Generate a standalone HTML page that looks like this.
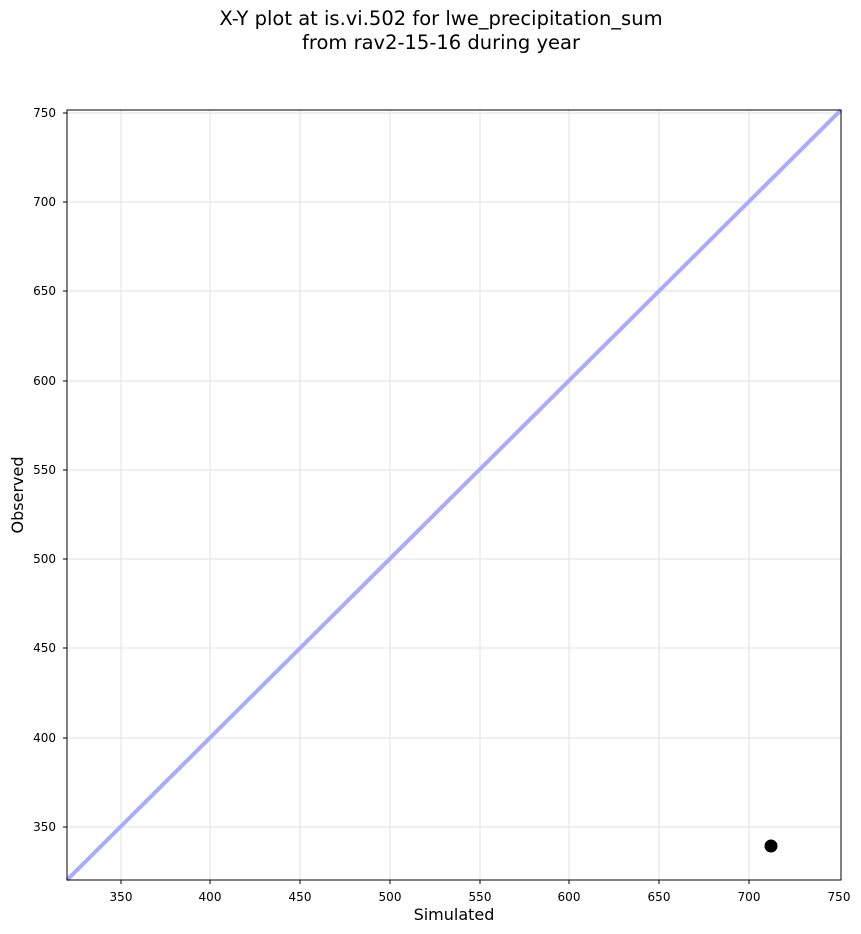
<!DOCTYPE html>
<html><head><style>body{margin:0;background:#fff}svg{display:block}</style></head><body>
<svg width="861" height="934" xmlns="http://www.w3.org/2000/svg" font-family="DejaVu Sans, Liberation Sans, sans-serif">
<rect width="861" height="934" fill="#fff"/>
<text x="441" y="25" font-size="19.5" text-anchor="middle">X-Y plot at is.vi.502 for lwe_precipitation_sum</text>
<text x="441" y="49" font-size="19.5" text-anchor="middle">from rav2-15-16 during year</text>
<g stroke="#e6e6e6" stroke-width="1.2">
<line x1="121" y1="110" x2="121" y2="880"/><line x1="210" y1="110" x2="210" y2="880"/><line x1="300" y1="110" x2="300" y2="880"/><line x1="390" y1="110" x2="390" y2="880"/><line x1="480" y1="110" x2="480" y2="880"/><line x1="569" y1="110" x2="569" y2="880"/><line x1="659" y1="110" x2="659" y2="880"/><line x1="749" y1="110" x2="749" y2="880"/>
<line x1="67" y1="113" x2="841" y2="113"/><line x1="67" y1="202" x2="841" y2="202"/><line x1="67" y1="291" x2="841" y2="291"/><line x1="67" y1="381" x2="841" y2="381"/><line x1="67" y1="470" x2="841" y2="470"/><line x1="67" y1="559" x2="841" y2="559"/><line x1="67" y1="648" x2="841" y2="648"/><line x1="67" y1="738" x2="841" y2="738"/><line x1="67" y1="827" x2="841" y2="827"/>
</g>
<line x1="67" y1="880" x2="841" y2="110" stroke="#aaaaff" stroke-width="4"/>
<circle cx="771" cy="846" r="6.5" fill="#000"/>
<rect x="67" y="110" width="774" height="770" fill="none" stroke="#000" stroke-width="1"/>
<g stroke="#000"><line x1="121" y1="880" x2="121" y2="884"/><line x1="210" y1="880" x2="210" y2="884"/><line x1="300" y1="880" x2="300" y2="884"/><line x1="390" y1="880" x2="390" y2="884"/><line x1="480" y1="880" x2="480" y2="884"/><line x1="569" y1="880" x2="569" y2="884"/><line x1="659" y1="880" x2="659" y2="884"/><line x1="749" y1="880" x2="749" y2="884"/>
<line x1="63" y1="113" x2="67" y2="113"/><line x1="63" y1="202" x2="67" y2="202"/><line x1="63" y1="291" x2="67" y2="291"/><line x1="63" y1="381" x2="67" y2="381"/><line x1="63" y1="470" x2="67" y2="470"/><line x1="63" y1="559" x2="67" y2="559"/><line x1="63" y1="648" x2="67" y2="648"/><line x1="63" y1="738" x2="67" y2="738"/><line x1="63" y1="827" x2="67" y2="827"/></g>
<g font-size="12" text-anchor="middle"><text x="121" y="901">350</text><text x="210" y="901">400</text><text x="300" y="901">450</text><text x="390" y="901">500</text><text x="480" y="901">550</text><text x="569" y="901">600</text><text x="659" y="901">650</text><text x="749" y="901">700</text><text x="839" y="901">750</text></g>
<g font-size="12" text-anchor="end"><text x="56" y="117">750</text><text x="56" y="206">700</text><text x="56" y="295">650</text><text x="56" y="385">600</text><text x="56" y="474">550</text><text x="56" y="563">500</text><text x="56" y="652">450</text><text x="56" y="742">400</text><text x="56" y="831">350</text></g>
<text x="454" y="920" font-size="16" text-anchor="middle">Simulated</text>
<text transform="translate(23,495) rotate(-90)" font-size="16" text-anchor="middle">Observed</text>
</svg>
</body></html>
